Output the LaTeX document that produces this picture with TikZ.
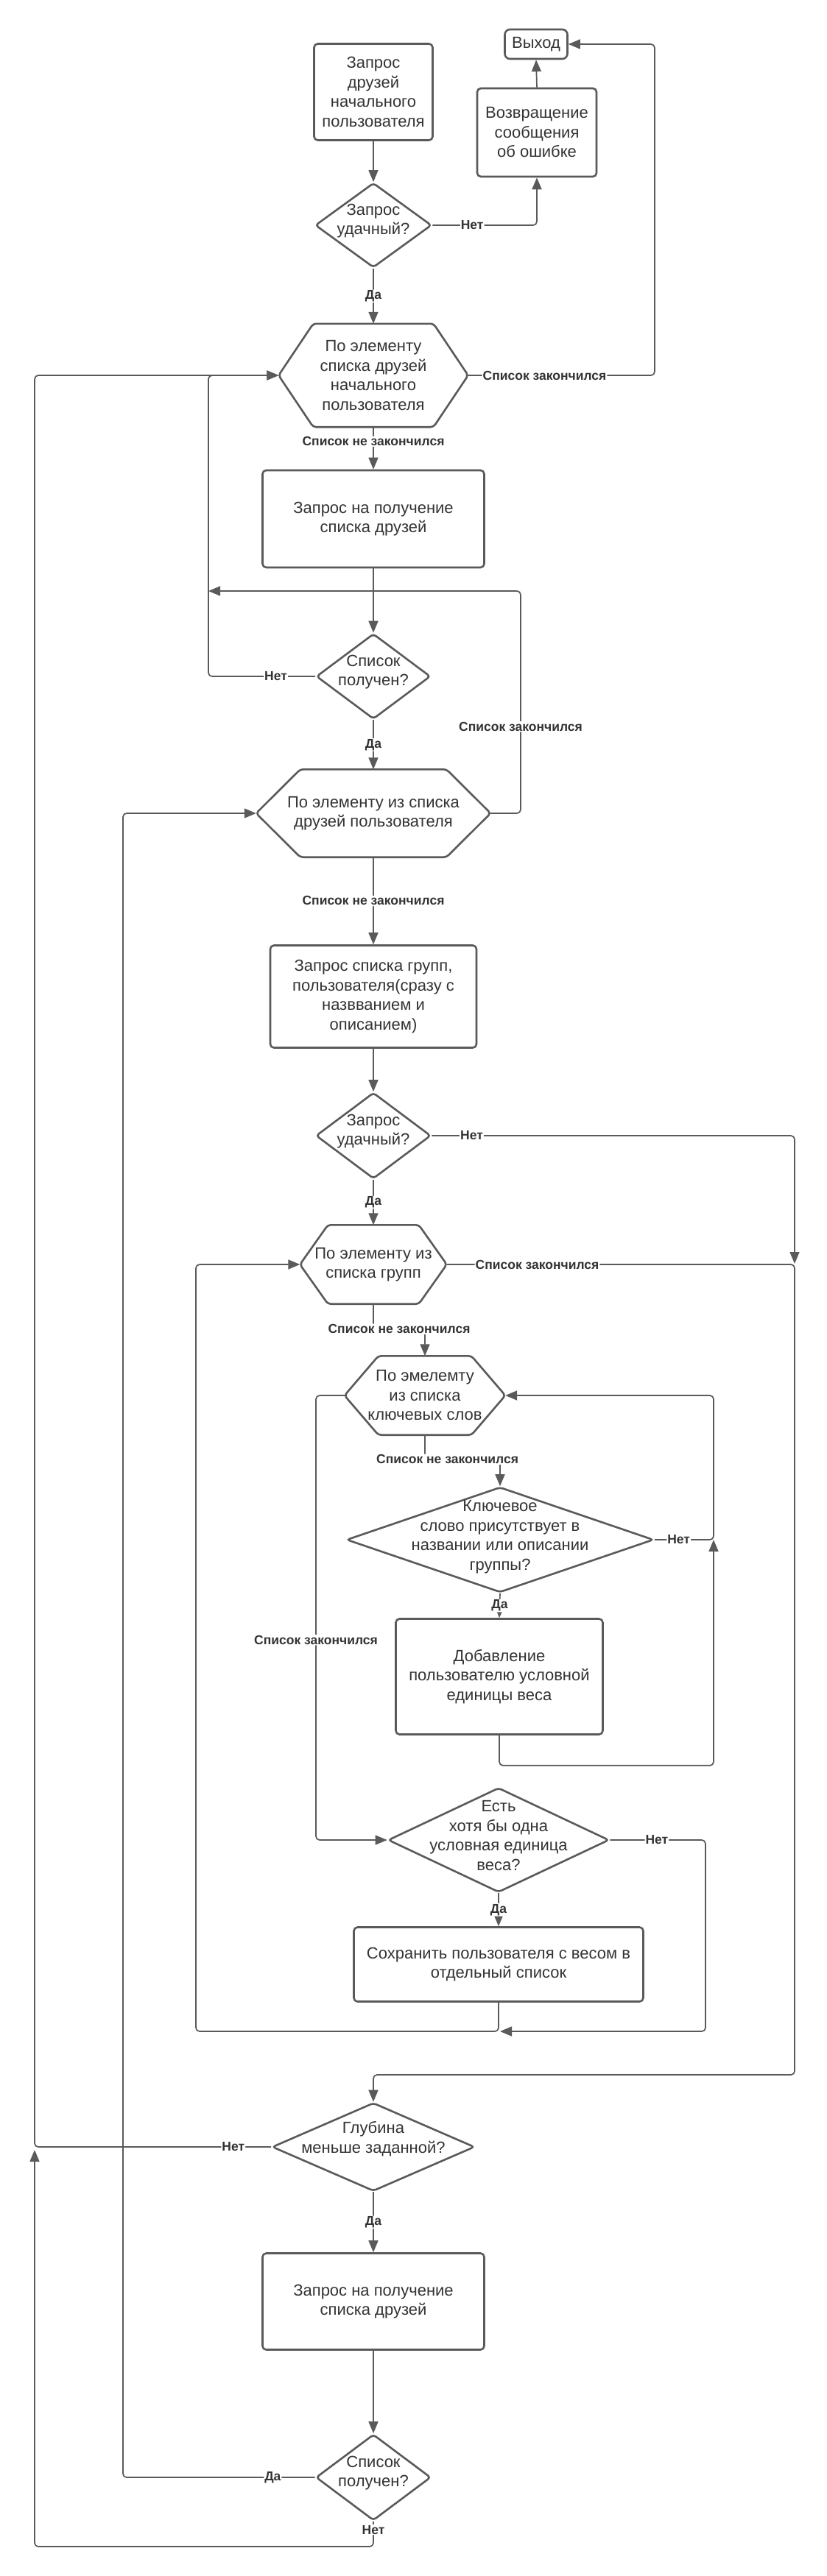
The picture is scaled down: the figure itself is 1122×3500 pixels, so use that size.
\documentclass[tikz,border=0pt]{standalone}
\usepackage{fontspec}
\setmainfont{Liberation Sans}
\usepackage{tikz}
\usetikzlibrary{shapes.geometric}
\usetikzlibrary{arrows.meta}
\definecolor{linec}{HTML}{5A5A5A}
\definecolor{txtc}{HTML}{333333}

\tikzset{
  box/.style={rectangle, draw=linec, line width=2.6pt, rounded corners=5pt, fill=white, align=center, inner sep=0pt, text=txtc, font=\fontsize{22}{26.5}\selectfont},
  dia/.style={diamond, draw=linec, line width=2.6pt, rounded corners=4pt, fill=white, inner sep=0pt},
  dtext/.style={align=center, text=txtc, inner sep=0pt, font=\fontsize{22}{26.5}\selectfont, yshift=6pt},
  hexa/.style={rectangle, align=center, inner sep=0pt, text=txtc, font=\fontsize{22}{26.5}\selectfont},
  hexline/.style={draw=linec, line width=2.6pt, rounded corners=4pt},
  conn/.style={draw=linec, line width=1.7pt, rounded corners=5pt, -{Triangle[length=16pt,width=13pt]}},
  lbl/.style={fill=white, inner sep=1pt, text=txtc, font=\fontsize{17.5}{20}\selectfont\bfseries},
}

\begin{document}
\begin{tikzpicture}[x=1pt, y=-1pt]
      \path[use as bounding box, fill=white] (0,0) rectangle (1122,3500);

      % first request, error and exit
      \node[box, minimum width=161pt, minimum height=131pt] (start) at (507,125) {Запрос\\друзей\\начального\\пользователя};
      \node[dia, minimum width=158pt, minimum height=115pt, label={[dtext]center:{Запрос\\удачный?}}] (d1) at (507,306) {};
      \node[box, minimum width=162pt, minimum height=120pt] (err) at (729,180) {Возвращение\\сообщения\\об ошибке};
      \node[box, minimum width=85pt, minimum height=40pt, rounded corners=7pt] (exit) at (728,60) {Выход};

      % loop over friends of the first user
      \node[hexa, minimum width=257pt, minimum height=140pt] (h1) at (507,510) {По элементу\\списка друзей\\начального\\пользователя};
      \draw[hexline] ([xshift=47pt]h1.north west) -- ([xshift=-47pt]h1.north east) -- (h1.east) -- ([xshift=-47pt]h1.south east) -- ([xshift=47pt]h1.south west) -- (h1.west) -- cycle;
      \node[box, minimum width=301pt, minimum height=132pt] (b2) at (507,705) {Запрос на получение\\списка друзей};
      \node[dia, minimum width=155pt, minimum height=116pt, label={[dtext]center:{Список\\получен?}}] (d2) at (507,919) {};

      % loop over friends of a user
      \node[hexa, minimum width=318pt, minimum height=119pt] (h2) at (507,1105) {По элементу из списка\\друзей пользователя};
      \draw[hexline] ([xshift=60pt]h2.north west) -- ([xshift=-60pt]h2.north east) -- (h2.east) -- ([xshift=-60pt]h2.south east) -- ([xshift=60pt]h2.south west) -- (h2.west) -- cycle;
      \node[box, minimum width=280pt, minimum height=139pt] (b3) at (507,1354) {Запрос списка групп,\\пользователя(сразу с\\назвванием и\\описанием)};
      \node[dia, minimum width=156pt, minimum height=117pt, label={[dtext]center:{Запрос\\удачный?}}] (d3) at (507,1543) {};

      % loop over groups
      \node[hexa, minimum width=199pt, minimum height=107pt] (h3) at (507,1718) {По элементу из\\списка групп};
      \draw[hexline] ([xshift=38pt]h3.north west) -- ([xshift=-38pt]h3.north east) -- (h3.east) -- ([xshift=-38pt]h3.south east) -- ([xshift=38pt]h3.south west) -- (h3.west) -- cycle;

      % loop over key words
      \node[hexa, minimum width=218pt, minimum height=107pt] (h4) at (577,1896) {По эмелемту\\из списка\\ключевых слов};
      \draw[hexline] ([xshift=46pt]h4.north west) -- ([xshift=-46pt]h4.north east) -- (h4.east) -- ([xshift=-46pt]h4.south east) -- ([xshift=46pt]h4.south west) -- (h4.west) -- cycle;
      \node[dia, minimum width=417pt, minimum height=143pt, label={[dtext, yshift=-2pt]center:{Ключевое\\слово присутствует в\\названии или описании\\группы?}}] (d4) at (679,2092) {};
      \node[box, minimum width=281pt, minimum height=157pt] (b4) at (678,2278) {Добавление\\пользователю условной\\единицы веса};
      \node[dia, minimum width=300pt, minimum height=142pt, label={[dtext]center:{Есть\\хотя бы одна\\условная единица\\веса?}}] (d5) at (677,2500) {};
      \node[box, minimum width=393pt, minimum height=101pt] (b5) at (677,2669) {Сохранить пользователя с весом в\\отдельный список};

      % depth check
      \node[dia, minimum width=275pt, minimum height=120pt, label={[dtext, yshift=5pt]center:{Глубина\\меньше заданной?}}] (d6) at (507,2917) {};
      \node[box, minimum width=301pt, minimum height=131pt] (b6) at (507,3127) {Запрос на получение\\списка друзей};
      \node[dia, minimum width=156pt, minimum height=117pt, label={[dtext]center:{Список\\получен?}}] (d7) at (507,3366) {};

      % rails and joints
      \coordinate (rA) at (889,60);
      \coordinate (j1) at (283,803);
      \coordinate (rC) at (707,803);
      \coordinate (j2) at (1079,1717);
      \coordinate (k6) at (1079,2819);
      \coordinate (rD) at (429,1896);
      \coordinate (rE) at (969,1896);
      \coordinate (j3) at (969,2092);
      \coordinate (rF) at (958,2760);
      \coordinate (j4) at (679,2760);
      \coordinate (rG) at (266,2760);
      \coordinate (j5) at (47,2921);
      \coordinate (kB) at (47,3460);
      \coordinate (rI) at (167,3366);

      % connections at the top
      \draw[conn] (start.south) -- (d1.north);
      \draw[conn] (d1.east) -- node[lbl, pos=0.38]{Нет} (d1.east -| err.south) -- (err.south);
      \draw[conn] (err.north) -- (exit.south);
      \draw[conn] (d1.south) -- node[lbl]{Да} (h1.north);
      \draw[conn] (h1.east) -- node[lbl, pos=0.41]{Список закончился} (h1.east -| rA) -- (rA) -- (exit.east);

      % connections of the first loop
      \draw[conn] (h1.south) -- node[lbl, pos=0.34]{Список не закончился} (b2.north);
      \draw[conn] (b2.south) -- (d2.north);
      \draw[conn] (d2.west) -- node[lbl, pos=0.37]{Нет} (d2.west -| j1) -- (h1.west -| j1) -- (h1.west);
      \draw[conn] (d2.south) -- node[lbl]{Да} (h2.north);
      \draw[conn] (h2.east) -- (h2.east -| rC) -- node[lbl, pos=0.39]{Список закончился} (rC) -- (j1);

      % connections of the second loop
      \draw[conn] (h2.south) -- node[lbl]{Список не закончился} (b3.north);
      \draw[conn] (b3.south) -- (d3.north);
      \draw[conn] (d3.east) -- node[lbl, pos=0.11]{Нет} (d3.east -| j2) -- (j2);
      \draw[conn] (d3.south) -- node[lbl]{Да} (h3.north);
      \draw[conn] (h3.east) -- node[lbl, pos=0.26]{Список закончился} (h3.east -| k6) -- (k6) -- (k6 -| d6.north) -- (d6.north);

      % connections of the group and key word loops
      \draw[conn] (h3.south) -- ++(0,34) -| node[lbl, pos=0.25]{Список не закончился} (h4.north);
      \draw[conn] (h4.west) -- (rD) -- node[lbl, pos=0.55]{Список закончился} (d5.west -| rD) -- (d5.west);
      \draw[conn] (h4.south) -- ++(0,33) -| node[lbl, pos=0.15]{Список не закончился} (d4.north);
      \draw[conn] (d4.east) -- node[lbl, pos=0.41]{Нет} (d4.east -| rE) -- (rE) -- (h4.east);
      \draw[conn] (d4.south) -- node[lbl]{Да} (b4.north);
      \draw[conn] (b4.south) -- ++(0,41) -| (j3);
      \draw[conn] (d5.south) -- node[lbl]{Да} (b5.north);
      \draw[conn] (d5.east) -- node[lbl, pos=0.49]{Нет} (d5.east -| rF) -- (rF) -- (j4);
      \draw[conn] (b5.south) -- (b5.south |- j4) -- (rG) -- (h3.west -| rG) -- (h3.west);

      % connections at the bottom
      \draw[conn] (d6.west) -- node[lbl, pos=0.16]{Нет} (d6.west -| kB) -- (h1.west -| kB) -- (h1.west);
      \draw[conn] (d6.south) -- node[lbl]{Да} (b6.north);
      \draw[conn] (b6.south) -- (d7.north);
      \draw[conn] (d7.west) -- node[lbl, pos=0.22]{Да} (d7.west -| rI) -- (h2.west -| rI) -- (h2.west);
      \draw[conn] (d7.south) -- node[lbl, pos=0.33]{Нет} (d7.south |- kB) -- (kB) -- (j5);
\end{tikzpicture}
\end{document}
